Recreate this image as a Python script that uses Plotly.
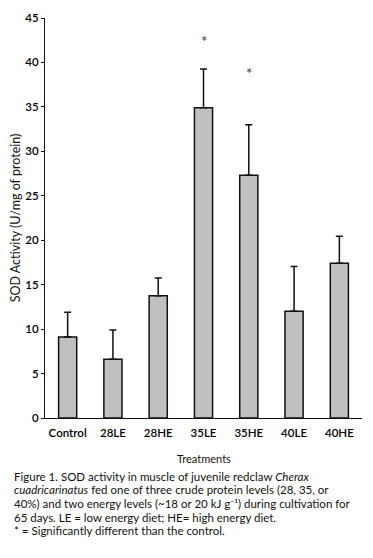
import plotly.graph_objects as go

categories = ["Control", "28LE", "28HE", "35LE", "35HE", "40LE", "40HE"]
sod_means = [9.1, 6.6, 13.75, 34.9, 27.3, 12.0, 17.4]
sod_errors = [2.8, 3.3, 2.0, 4.35, 5.7, 5.05, 3.05]
star_labels = ["", "", "", "*", "*", "", ""]
star_heights = [None, None, None, 42.9, 39.3, None, None]
y_ticks = [0, 5, 10, 15, 20, 25, 30, 35, 40, 45]

caption_lines = [
    "Figure 1. SOD activity in muscle of juvenile redclaw <i>Cherax</i>",
    "<i>cuadricarinatus</i> fed one of three crude protein levels (28, 35, or",
    "40%) and two energy levels (~18 or 20 kJ g\u207b\u00b9) during cultivation for",
    "65 days. LE = low energy diet; HE= high energy diet.",
    "* = Significantly different than the control.",
]

FONT = "Lato, Roboto, sans-serif"

# page body has an 8px margin: work in figure coordinates = page pixels - 8
OFF = 8
W, H = 373 - OFF, 558 - OFF
plot_left, plot_right = 41 - OFF, 362 - OFF
plot_top, plot_bottom = 11 - OFF, 418.5 - OFF
plot_w = plot_right - plot_left
plot_h = plot_bottom - plot_top


def ypaper(py):
    return (plot_bottom - (py - OFF)) / plot_h


def xpaper(px):
    return ((px - OFF) - plot_left) / plot_w


fig = go.Figure()
fig.add_trace(go.Bar(
    x=categories,
    y=sod_means,
    marker=dict(color="#c0c0c0", line=dict(color="#111111", width=1.5)),
    error_y=dict(type="data", array=sod_errors, arrayminus=[0] * len(sod_errors),
                 symmetric=False, color="#111111", thickness=1.5, width=3.5),
    width=0.4,
    showlegend=False,
))

for cat, lab, h in zip(categories, star_labels, star_heights):
    if lab:
        fig.add_annotation(x=cat, y=h, text=lab, showarrow=False, yshift=-4,
                           font=dict(family=FONT, size=15, color="#333333"),
                           xref="x", yref="y")

caption_y = [478, 491.8, 505.6, 519.4, 533.2]
for line, py in zip(caption_lines, caption_y):
    fig.add_annotation(x=xpaper(8), y=ypaper(py), xref="paper", yref="paper",
                       text=line, showarrow=False, xanchor="left", yanchor="middle",
                       font=dict(family=FONT, size=11.5, color="#111111"))

fig.add_annotation(x=0.5, y=ypaper(460), xref="paper", yref="paper", text="Treatments",
                   showarrow=False, xanchor="center", yanchor="middle",
                   font=dict(family=FONT, size=11, color="#111111"))

fig.update_layout(
    width=W, height=H,
    margin=dict(l=plot_left, r=W - plot_right, t=plot_top, b=H - plot_bottom, pad=0),
    paper_bgcolor="white", plot_bgcolor="white",
    font=dict(family=FONT, color="#111111"),
    xaxis=dict(range=[-0.5, 6.5], showline=True, linecolor="#111111", linewidth=1.2,
               ticks="", showgrid=False, ticklabelstandoff=4,
               tickfont=dict(size=11.5, family=FONT, color="#000000", weight=600)),
    yaxis=dict(range=[0, 45], tickvals=y_ticks, showline=True, linecolor="#111111",
               linewidth=1.2, ticks="outside", ticklen=3, tickcolor="#111111",
               ticklabeloverflow="allow",
               showgrid=False, zeroline=False,
               tickfont=dict(size=11.5, family=FONT, color="#000000", weight=600),
               title=dict(text="SOD Activity (U/mg of protein)", standoff=6,
                          font=dict(size=12.5, family=FONT))),
)

fig.write_html("out.html")
